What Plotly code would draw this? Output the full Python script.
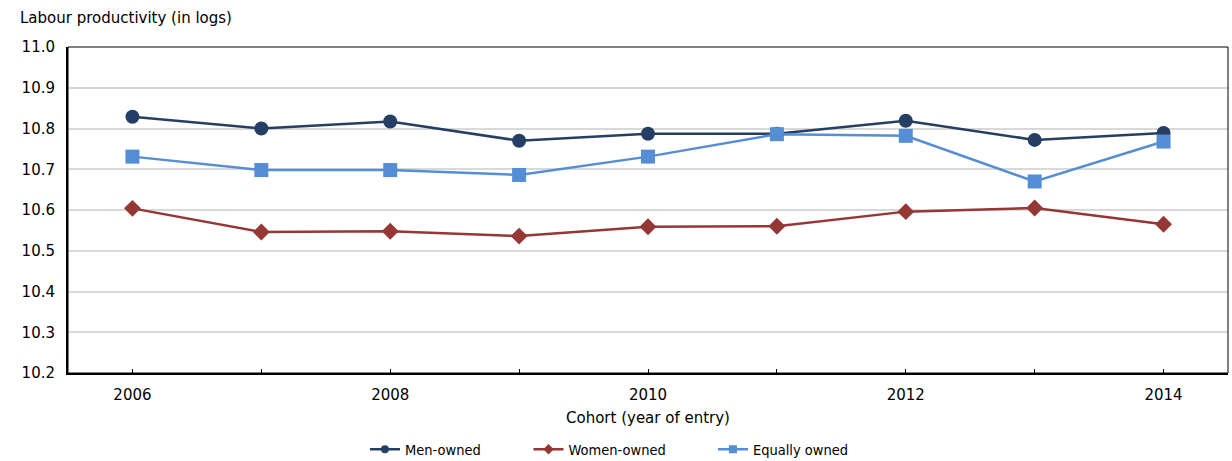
import plotly.graph_objects as go

# Cohort years and average labour productivity (log scale) by ownership type
years = [2006, 2007, 2008, 2009, 2010, 2011, 2012, 2013, 2014]
men_owned = [10.829, 10.800, 10.817, 10.770, 10.787, 10.787, 10.819, 10.772, 10.789]
women_owned = [10.604, 10.546, 10.548, 10.536, 10.559, 10.560, 10.596, 10.605, 10.565]
equally_owned = [10.731, 10.698, 10.698, 10.686, 10.731, 10.786, 10.782, 10.670, 10.768]

year_labels = [str(y) if y % 2 == 0 else "" for y in years]
y_ticks = [10.2, 10.3, 10.4, 10.5, 10.6, 10.7, 10.8, 10.9, 11.0]

FONT = "DejaVu Sans, Verdana, sans-serif"
LEGEND_FONT = "DejaVu Sans Condensed, Liberation Sans Narrow, sans-serif"
FS = 15
C_MEN = "#243F63"
C_WOMEN = "#953735"
C_EQUAL = "#558ED5"

series = [
    ("Men-owned", men_owned, C_MEN, "circle", 14, "legend"),
    ("Women-owned", women_owned, C_WOMEN, "diamond", 13, "legend2"),
    ("Equally owned", equally_owned, C_EQUAL, "square", 14, "legend3"),
]

fig = go.Figure()
for name, vals, color, symbol, size, leg in series:
    fig.add_trace(go.Scatter(
        x=years, y=vals, mode="lines+markers", name=name,
        line=dict(color=color, width=2.5),
        marker=dict(symbol=symbol, size=size, color=color),
        showlegend=False, hoverinfo="x+y+name",
    ))
    # legend entry with a smaller marker
    fig.add_trace(go.Scatter(
        x=[None], y=[None], mode="lines+markers", name=name,
        line=dict(color=color, width=2.5),
        marker=dict(symbol=symbol, size=8, color=color),
        legend=leg,
    ))

legend_common = dict(
    orientation="h", yanchor="middle", xanchor="left", y=-0.234,
    font=dict(family=LEGEND_FONT, size=14.5, color="#000000"),
    bgcolor="rgba(0,0,0,0)", borderwidth=0,
)

fig.update_layout(
    width=1232, height=461,
    margin=dict(l=68, r=4, t=47, b=88, autoexpand=False),
    paper_bgcolor="white", plot_bgcolor="white",
    font=dict(family=FONT, size=FS, color="#000000"),
    xaxis=dict(
        range=[2005.5, 2014.5], tickmode="array", tickvals=years, ticktext=year_labels,
        ticks="inside", ticklen=4, tickwidth=1, tickcolor="#000000",
        ticklabelstandoff=7,
        showline=True, linecolor="#000000", linewidth=2, showgrid=False, zeroline=False,
        title=dict(text="Cohort (year of entry)", standoff=9,
                   font=dict(family=FONT, size=FS, color="#000000")),
    ),
    yaxis=dict(
        range=[10.2, 11.0], tickmode="array", tickvals=y_ticks,
        ticktext=[f"{v:.1f}" for v in y_ticks],
        showline=True, linecolor="#000000", linewidth=2,
        showgrid=True, gridcolor="#D9D9D9", gridwidth=1.5, zeroline=False,
        ticks="", ticklabelstandoff=8,
    ),
    legend=dict(x=0.256, **legend_common),
    legend2=dict(x=0.397, **legend_common),
    legend3=dict(x=0.556, **legend_common),
    annotations=[dict(
        text="Labour productivity (in logs)", xref="paper", yref="paper",
        x=-0.0431, y=1.089, xanchor="left", yanchor="middle", showarrow=False,
        font=dict(family=FONT, size=FS, color="#000000"),
    )],
    shapes=[dict(
        type="rect", xref="paper", yref="paper", x0=0, x1=1, y0=0, y1=1,
        line=dict(color="#000000", width=1), layer="above",
    )],
)

fig.write_html("out.html")
